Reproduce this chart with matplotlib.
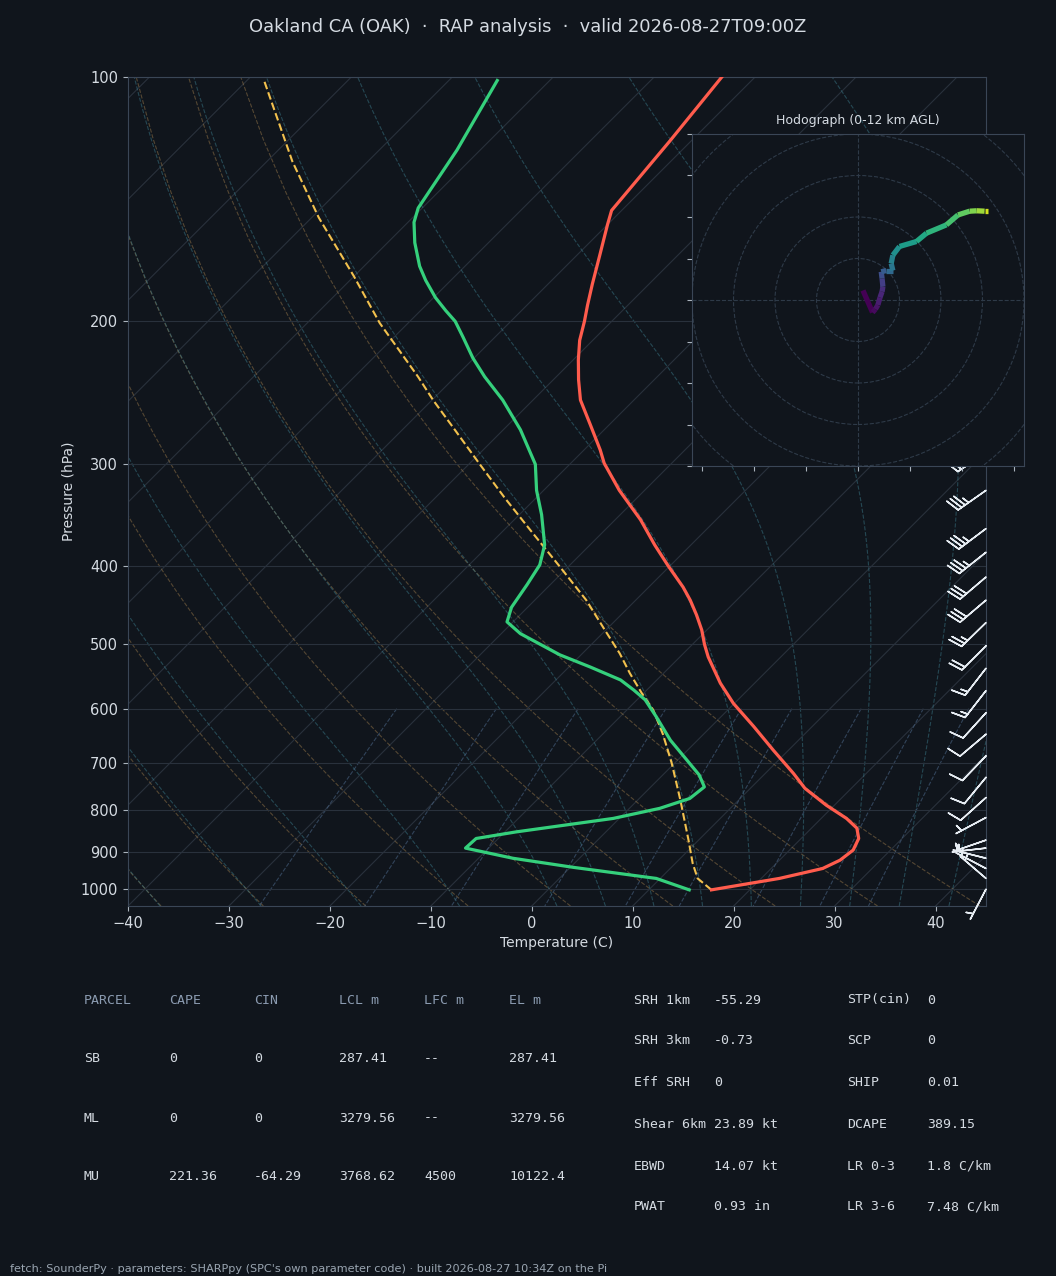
import numpy as np
import matplotlib
matplotlib.use("Agg")
import matplotlib.pyplot as plt
from matplotlib import transforms
from matplotlib.collections import LineCollection
from matplotlib.patches import Circle
from matplotlib.ticker import NullLocator

BG = "#10151c"
FG = "#d5dbe2"
GRID = "#29313c"
SPINE = "#3a4656"
HDR = "#8b9bb0"

# --- sounding (hPa, degC) ---
temp_p = [1003, 971, 944, 922, 896, 867, 842, 819, 789, 752, 721, 675, 631, 591,
          558, 518, 500, 480, 460, 441, 425, 400, 377, 351, 323, 299, 288, 268,
          250, 236, 223, 211, 200, 191, 180, 166, 152, 146, 120, 100]
temp_c = [16.2, 21.8, 25.1, 26.0, 26.3, 25.7, 24.5, 22.5, 19.2, 15.4, 12.8, 8.5,
          4.2, -0.1, -3.4, -7.2, -8.8, -10.5, -12.5, -14.6, -16.6, -20.2, -23.6,
          -27.5, -32.5, -36.7, -38.4, -41.9, -45.3, -47.5, -49.5, -51.3, -52.7,
          -54.0, -55.6, -57.7, -60.0, -61.0, -62.1, -63.3]

dwpt_p = [1003, 971, 941, 917, 891, 867, 851, 819, 796, 774, 749, 724, 694, 656,
          614, 585, 569, 553, 533, 515, 485, 469, 450, 422, 399, 377, 346, 323,
          300, 272, 250, 234, 222, 209, 200, 194, 187, 178, 171, 160, 151, 145,
          123, 101]
dwpt_c = [14.0, 9.6, 0.3, -6.6, -12.3, -12.2, -8.9, -0.6, 3.0, 5.0, 5.3, 3.6, 0.9,
          -2.7, -6.4, -9.2, -11.3, -13.6, -17.9, -22.1, -28.1, -30.6, -31.6, -32.3,
          -33.0, -34.5, -37.8, -40.7, -43.4, -48.3, -53.0, -57.1, -60.1, -63.2,
          -65.5, -67.5, -69.8, -72.5, -74.5, -77.3, -79.4, -80.4, -82.3, -85.2]

parcel_p = [1003, 971, 930, 871, 777, 700, 644, 602, 574, 543, 513, 480, 441, 400,
            362, 330, 300, 272, 250, 234, 201, 176, 149, 127, 101]
parcel_c = [16.2, 13.7, 11.7, 9.0, 4.2, -0.3, -4.1, -7.4, -10.2, -13.3, -16.3,
            -20.1, -24.9, -31.0, -37.3, -43.1, -48.9, -54.8, -59.9, -63.7, -72.8,
            -80.0, -89.3, -97.5, -108.3]

# --- wind profile (hPa, km AGL, kt) ---
wind_p = [1001, 971, 944, 917, 891, 871, 817, 772, 729, 686, 645, 607, 570, 535,
          502, 470, 441, 413, 385, 360, 323, 290]
wind_z = [0.0, 0.26, 0.5, 0.77, 1.02, 1.2, 1.75, 2.25, 2.75, 3.25, 3.75, 4.25,
          4.75, 5.25, 5.75, 6.25, 6.75, 7.25, 7.75, 8.2, 8.9, 9.6]
wind_u = [1.2, 3.5, 4.2, 4.8, 5.3, 5.8, 6.0, 5.8, 5.6, 6.8, 8.4, 8.0, 8.4, 10.0,
          14.1, 16.5, 21.3, 24.1, 26.9, 28.6, 30.5, 31.3]
wind_v = [2.3, -3.0, -2.2, -1.2, 0.6, 2.0, 3.2, 5.2, 6.8, 7.1, 7.1, 8.8, 10.8,
          12.9, 14.1, 16.1, 18.1, 20.5, 21.4, 21.5, 21.4, 21.4]

# --- parameter tables ---
parcel_header = ["PARCEL", "CAPE", "CIN", "LCL m", "LFC m", "EL m"]
parcel_rows = [
    ["SB", "0", "0", "287.41", "--", "287.41"],
    ["ML", "0", "0", "3279.56", "--", "3279.56"],
    ["MU", "221.36", "-64.29", "3768.62", "4500", "10122.4"],
]
param_left = [("SRH 1km", "-55.29"), ("SRH 3km", "-0.73"), ("Eff SRH", "0"),
              ("Shear 6km", "23.89 kt"), ("EBWD", "14.07 kt"), ("PWAT", "0.93 in")]
param_right = [("STP(cin)", "0"), ("SCP", "0"), ("SHIP", "0.01"),
               ("DCAPE", "389.15"), ("LR 0-3", "1.8 C/km"), ("LR 3-6", "7.48 C/km")]

title = "Oakland CA (OAK)  \u00b7  RAP analysis  \u00b7  valid 2026-08-27T09:00Z"
footer = ("fetch: SounderPy \u00b7 parameters: SHARPpy (SPC's own parameter code) "
          "\u00b7 built 2026-08-27 10:34Z on the Pi")

# thermodynamic constants for the background lines
RD, CP, LV, EPS = 287.04749, 1004.6662, 2.50084e6, 0.6219569


def sat_vapor(tc):
    return 6.112 * np.exp(17.67 * tc / (tc + 243.5))


def dtdp(p, tk):
    es = sat_vapor(tk - 273.15)
    rs = EPS * es / (p - es)
    return (RD * tk + LV * rs) / p / (CP + LV ** 2 * rs * EPS / (RD * tk ** 2))


def moist_adiabat(t0c):
    parts_p, parts_t = [], []
    for p_end, steps in ((100.0, 200), (1050.0, 15)):
        ps = np.linspace(1000.0, p_end, steps)
        tk = t0c + 273.15
        ts = [tk]
        for i in range(len(ps) - 1):
            h = ps[i + 1] - ps[i]
            k1 = dtdp(ps[i], tk)
            k2 = dtdp(ps[i] + h / 2, tk + h * k1 / 2)
            k3 = dtdp(ps[i] + h / 2, tk + h * k2 / 2)
            k4 = dtdp(ps[i + 1], tk + h * k3)
            tk = tk + h * (k1 + 2 * k2 + 2 * k3 + k4) / 6
            ts.append(tk)
        parts_p.append(ps)
        parts_t.append(np.array(ts))
    p = np.concatenate([parts_p[1][::-1], parts_p[0][1:]])
    t = np.concatenate([parts_t[1][::-1], parts_t[0][1:]]) - 273.15
    return p, t


W, H = 1056, 1276
fig = plt.figure(figsize=(W / 100, H / 100), dpi=100, facecolor=BG)
plt.rcParams["font.family"] = ["DejaVu Sans"]

ax_l, ax_t, ax_r, ax_b = 128, 77, 986, 906
ax = fig.add_axes([ax_l / W, 1 - ax_b / H, (ax_r - ax_l) / W, (ax_b - ax_t) / H])
ax.set_facecolor(BG)
ax.set_yscale("log")
ax.set_ylim(1050, 100)
ax.set_xlim(-40, 45)

# skew so isotherms run at 45 degrees on screen
rot = np.degrees(np.arctan((ax_b - ax_t) / (ax_r - ax_l)))
skew = (ax.transScale + ax.transLimits
        + transforms.Affine2D().skew_deg(rot, 0) + ax.transAxes)

# isotherms
for t in range(-120, 50, 10):
    ax.plot([t, t], [1050, 100], color=GRID, lw=0.8, transform=skew, zorder=1)

plev = np.linspace(1050, 100, 50)
# dry adiabats
for t0 in np.arange(-40, 46, 10):
    tk = (t0 + 273.15) * (plev / 1000.0) ** (RD / CP) - 273.15
    ax.plot(tk, plev, color="#a7834f", alpha=0.45, lw=0.8, ls="--",
            transform=skew, zorder=1)
# moist adiabats
for t0 in np.concatenate((np.arange(-40, 0, 10), np.arange(0, 46, 5))):
    mp, mt = moist_adiabat(float(t0))
    ax.plot(mt, mp, color="#3f8596", alpha=0.45, lw=0.8, ls="--",
            transform=skew, zorder=1)
# mixing ratio lines
pmix = np.linspace(600, 1050, 30)
for w in [0.0004, 0.001, 0.002, 0.004, 0.007, 0.01, 0.016, 0.024, 0.032]:
    e = pmix * w / (EPS + w)
    lg = np.log(e / 6.112)
    td = 243.5 * lg / (17.67 - lg)
    ax.plot(td, pmix, color="#4d6a8c", alpha=0.55, lw=0.8, ls="--",
            transform=skew, zorder=1)

# profiles
ax.plot(temp_c, temp_p, color="#ff5c4d", lw=2.3, transform=skew, zorder=4)
ax.plot(dwpt_c, dwpt_p, color="#35d07c", lw=2.3, transform=skew, zorder=4)
ax.plot(parcel_c, parcel_p, color="#f2c14e", lw=1.5, ls="--",
        transform=skew, zorder=3)

# wind barbs along the right edge
bt = transforms.blended_transform_factory(ax.transAxes, ax.transData)
ax.barbs(np.ones(len(wind_p)), wind_p, wind_u, wind_v, transform=bt,
         length=7, color="#e6ecf2", linewidth=1.1, clip_on=False, zorder=5)

ax.set_ylim(1050, 100)
ax.set_xlim(-40, 45)
pticks = list(range(100, 1001, 100))
ax.set_yticks(pticks, labels=[str(p) for p in pticks])
ax.yaxis.set_minor_locator(NullLocator())
ax.set_xticks(range(-40, 41, 10))
ax.yaxis.grid(True, color=GRID, lw=0.8)
ax.xaxis.grid(False)
ax.tick_params(colors=FG, labelsize=10.5, length=3.5)
ax.tick_params(axis="both", color="#aab3bd")
for s in ax.spines.values():
    s.set_color(SPINE)
ax.set_xlabel("Temperature (C)", color=FG, fontsize=10)
ax.set_ylabel("Pressure (hPa)", color=FG, fontsize=10)

# hodograph inset
hx = fig.add_axes([692 / W, 1 - 466 / H, 332 / W, 332 / H])
hx.set_facecolor(BG)
for r in range(10, 70, 10):
    hx.add_patch(Circle((0, 0), r, fill=False, ls="--", lw=0.8,
                        edgecolor="#2e3a48"))
hx.axhline(0, color="#2e3a48", lw=0.8, ls="--")
hx.axvline(0, color="#2e3a48", lw=0.8, ls="--")
hz = np.array(wind_z)
keep = hz <= 12
pts = np.column_stack([np.array(wind_u)[keep], np.array(wind_v)[keep]])
segs = np.stack([pts[:-1], pts[1:]], axis=1)
lc = LineCollection(segs, cmap="viridis",
                    norm=plt.Normalize(hz[keep].min(), hz[keep].max()),
                    linewidths=3.8, capstyle="butt")
lc.set_array(hz[keep][:-1])
hx.add_collection(lc)
hx.set_xlim(-40, 40)
hx.set_ylim(-40, 40)
hx.set_xticks(np.arange(-37.5, 40, 12.5))
hx.set_yticks(range(-40, 41, 10))
hx.tick_params(labelbottom=False, labelleft=False, color="#aab3bd", length=3.5)
for s in hx.spines.values():
    s.set_color(SPINE)
hx.set_title("Hodograph (0-12 km AGL)", fontsize=9, color=FG, pad=7)

# title and footer
fig.text(0.5, 1 - 27 / H, title, ha="center", va="center", fontsize=12.9,
         color=FG)
fig.text(10 / W, 1 - 1269 / H, footer, ha="left", va="center", fontsize=8.15,
         color="#9aa5b1")

# parcel table
mono = "DejaVu Sans Mono"
col_x = [84, 169, 254, 339, 424, 509]
row_y = [1000, 1059, 1118, 1177]
for x, s in zip(col_x, parcel_header):
    fig.text(x / W, 1 - row_y[0] / H, s, family=mono, fontsize=9.5,
             color=HDR, va="center")
for y, row in zip(row_y[1:], parcel_rows):
    for x, s in zip(col_x, row):
        fig.text(x / W, 1 - y / H, s, family=mono, fontsize=9.5,
                 color=FG, va="center")

# parameter table
prow_y = [1000, 1041, 1083, 1124, 1166, 1207]
for y, (k1, v1), (k2, v2) in zip(prow_y, param_left, param_right):
    for x, s in ((634, k1), (714, v1), (847, k2), (927, v2)):
        fig.text(x / W, 1 - y / H, s, family=mono, fontsize=9.5,
                 color=FG, va="center")

fig.savefig("out.png", dpi=100, facecolor=BG)
